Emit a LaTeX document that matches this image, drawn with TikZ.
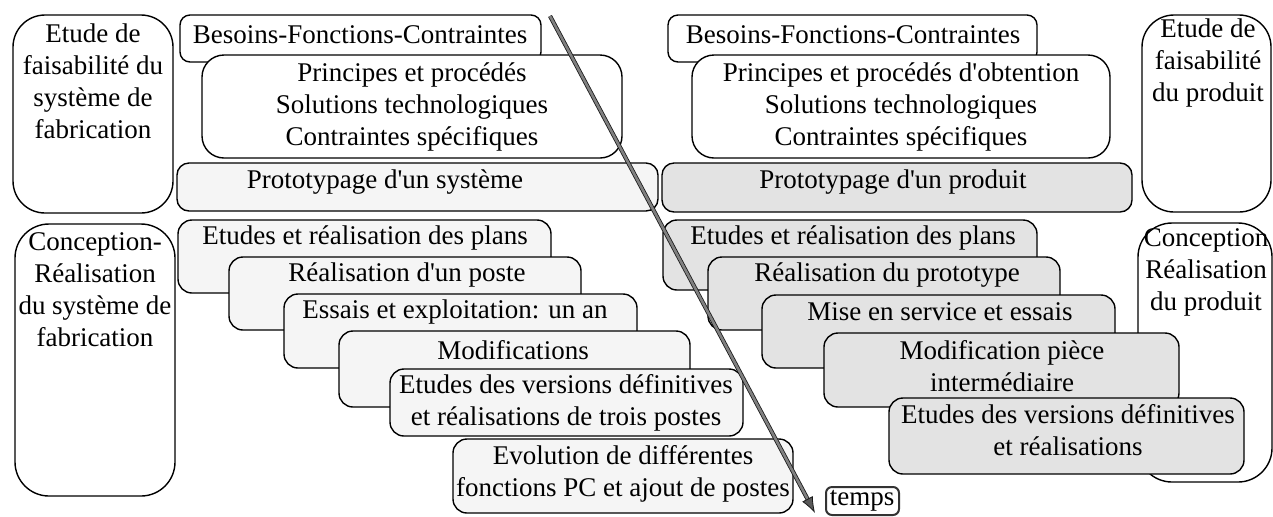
\documentclass[tikz,border=0pt]{standalone}
\usepackage{fontspec}
\setmainfont{Liberation Serif}
\usetikzlibrary{fit,arrows.meta}
\newcommand{\apo}{\textquotesingle}
\begin{document}
\begin{tikzpicture}[x=0.5pt,y=-0.5pt,
  box/.style={draw=black, line width=0.7pt, fill=white, inner sep=0pt, rounded corners=#1},
  box/.default=7pt,
  shadeL/.style={fill=black!4},
  shadeR/.style={fill=black!11},
  txt/.style={inner sep=0pt, align=center, font=\fontsize{13.5}{16}\selectfont},
  timearrow/.style={draw=black!90, line width=0.4pt, double=black!50, double distance=1.3pt,
    -{Latex[length=8pt,width=6pt,fill=black!65]}},
  tempsbox/.style={draw=black!80, line width=1pt, fill=white, inner sep=0pt, rounded corners=3pt}]
\useasboundingbox (0,0) rectangle (1273,516);

% --- top left
\node[box=16pt, fit={(13,15)(173,213)}] (A) {};
\node[txt] (At) at (93,81) {Etude de\\faisabilité du\\système de\\fabrication};
\node[box=5pt, fit={(180,15)(541,62)}] (B1) {};
\node[txt] (B1t) at (360,35) {Besoins-Fonctions-Contraintes};
\node[box=11pt, fit={(202,55)(622,158)}] (C1) {};
\node[txt] (C1t) at (412,107) {Principes et procédés\\Solutions technologiques\\Contraintes spécifiques};
\node[box=6pt, shadeL, fit={(177,163)(658,211)}] (D1) {};
\node[txt] (D1t) at (385,182) {Prototypage d\apo un système};

% --- top right
\node[box=5pt, fit={(668,15)(1037,62)}] (B2) {};
\node[txt] (B2t) at (853,35) {Besoins-Fonctions-Contraintes};
\node[box=11pt, fit={(692,55)(1110,158)}] (C2) {};
\node[txt] (C2t) at (901,107) {Principes et procédés d\apo obtention\\Solutions technologiques\\Contraintes spécifiques};
\node[box=6pt, shadeR, fit={(662,163)(1132,212)}] (D2) {};
\node[txt] (D2t) at (893,182) {Prototypage d\apo un produit};
\node[box=16pt, fit={(1142,15)(1271,212)}] (H) {};
\node[txt] (Ht) at (1208,63) {Etude de\\faisabilité\\du produit};

% --- bottom left
\node[box=17pt, fit={(15,224)(175,496)}] (L) {};
\node[txt] (Lt) at (95,290) {Conception-\\Réalisation\\du système de\\fabrication};
\node[box=7pt, shadeL, fit={(178,220)(551,293)}] (S1) {};
\node[txt] (S1t) at (365,238) {Etudes et réalisation des plans};
\node[box=7pt, shadeL, fit={(229,257)(581,330)}] (S2) {};
\node[txt] (S2t) at (407,275) {Réalisation d\apo un poste};
\node[box=7pt, shadeL, fit={(284,294)(637,368)}] (S3) {};
\node[txt] (S3t) at (455,312) {Essais et exploitation: un an};
\node[box=7pt, shadeL, fit={(339,331)(690,407)}] (S4) {};
\node[txt] (S4t) at (513,350) {Modifications};
\node[box=7pt, shadeL, fit={(390,369)(743,436)}] (S5) {};
\node[txt] (S5t) at (566,403) {Etudes des versions définitives\\et réalisations de trois postes};
\node[box=7pt, shadeL, fit={(453,439)(793,513)}] (S6) {};
\node[txt] (S6t) at (623,474) {Evolution de différentes\\fonctions PC et ajout de postes};

% --- bottom right
\node[box=17pt, fit={(1138,223)(1272,482)}] (M) {};
\node[txt] (Mt) at (1206,272) {Conception\\Réalisation\\du produit};
\node[box=7pt, shadeR, fit={(663,220)(1037,290)}] (R1) {};
\node[txt] (R1t) at (853,238) {Etudes et réalisation des plans};
\node[box=7pt, shadeR, fit={(708,257)(1060,330)}] (R2) {};
\node[txt] (R2t) at (887,275) {Réalisation du prototype};
\node[box=7pt, shadeR, fit={(762,295)(1115,368)}] (R3) {};
\node[txt] (R3t) at (940,312) {Mise en service et essais};
\node[box=7pt, shadeR, fit={(824,333)(1179,407)}] (R4) {};
\node[txt] (R4t) at (1002,366) {Modification pièce\\intermédiaire};
\node[box=7pt, shadeR, fit={(889,398)(1244,474)}] (R5) {};
\node[txt] (R5t) at (1068,430) {Etudes des versions définitives\\et réalisations};

% --- time
\node[tempsbox, fit={(826,487)(899,515)}] (T) {};
\node[txt] (Tt) at (862,501) {temps};
\coordinate (a0) at (550,16);
\coordinate (a1) at (815,513);
\draw[timearrow] (a0) -- (a1);
\end{tikzpicture}
\end{document}
